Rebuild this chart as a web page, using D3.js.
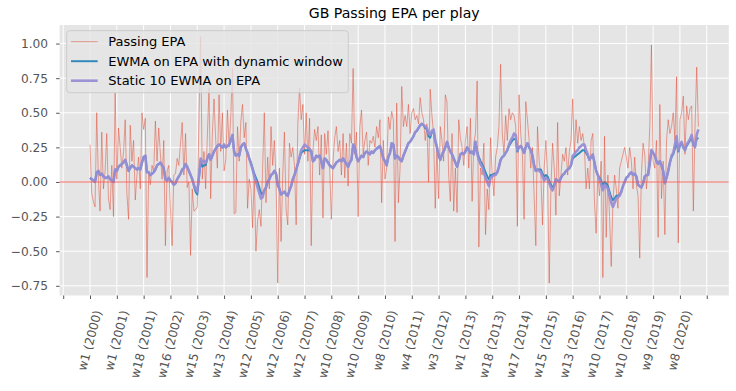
<!DOCTYPE html>
<html><head><meta charset="utf-8">
<script src="https://cdn.jsdelivr.net/npm/d3@7"></script>
<style>body{margin:0;background:#fff;} text{font-family:"DejaVu Sans",sans-serif;}</style>
</head><body><svg id="c" width="736" height="391"></svg>
<script>
// ---- data (one value per game, w1 2000 ... 2020 playoffs) ----
const epa = [
 0.27,-0.08,-0.14,-0.18,0.50,0.02,-0.21,0.36,-0.05,0.08,0.35,-0.12,-0.20,0.12,-0.25,0.65,
 0.02,0.39,0.25,0.10,0.22,0.45,-0.08,-0.27,0.41,0.15,0.30,-0.13,0.05,0.18,-0.05,0.50,0.38,0.46,
 -0.69,0.08,-0.02,0.12,0.07,0.44,0.15,0.39,0.20,0.02,0.30,-0.46,0.08,0.12,-0.20,-0.46,0.05,
 0.06,0.17,0.12,0.28,0.43,0.05,0.35,-0.04,0.00,-0.53,-0.05,-0.21,-0.20,-0.18,0.45,1.05,0.02,0.22,
 -0.05,0.33,0.68,-0.12,0.35,0.60,0.30,0.10,0.63,0.22,0.50,0.08,0.16,0.52,0.25,0.48,0.82,
 -0.23,-0.22,0.40,0.15,0.44,0.56,0.32,0.43,-0.19,0.02,-0.05,-0.33,0.05,-0.50,-0.28,-0.20,
 -0.32,0.10,0.50,-0.15,0.18,-0.05,0.40,0.12,0.30,0.02,-0.73,0.10,-0.43,0.05,0.36,-0.20,
 -0.31,0.28,0.18,0.25,0.12,-0.31,0.42,0.68,0.45,0.56,0.20,0.50,0.15,0.46,-0.46,0.22,0.38,0.30,
 0.40,0.05,0.34,-0.26,0.35,0.20,0.37,0.10,-0.27,0.15,0.32,0.40,0.22,0.30,0.05,0.35,
 0.03,0.28,-0.03,0.35,0.28,0.82,0.20,0.36,-0.25,0.40,0.52,0.20,0.30,0.36,0.12,0.30,0.28,
 0.33,0.25,0.40,0.32,0.45,-0.15,0.30,0.02,0.10,0.47,0.38,0.51,0.45,-0.43,0.57,-0.15,0.10,0.69,0.40,0.48,
 0.40,0.56,0.35,0.50,0.53,0.45,0.48,0.42,0.61,0.50,0.45,0.30,0.42,0.00,0.67,0.48,0.35,
 -0.19,0.25,-0.12,0.40,0.30,0.15,0.63,0.58,0.05,-0.14,0.35,-0.21,0.10,-0.22,0.45,0.32,0.25,0.12,
 0.30,0.40,0.10,0.46,-0.14,0.28,0.35,0.73,-0.47,0.10,0.05,0.28,-0.38,-0.05,-0.20,0.32,0.05,
 -0.10,0.18,0.25,0.40,0.85,0.35,0.20,0.48,0.30,0.53,0.45,0.50,0.48,0.40,-0.32,0.63,0.35,0.20,
 -0.27,0.58,0.45,0.30,0.10,0.25,-0.10,-0.46,0.40,0.15,0.05,-0.31,0.10,0.30,0.05,-0.73,-0.05,0.28,
 0.10,-0.24,0.43,-0.10,0.05,0.20,0.15,0.25,0.05,0.22,0.30,0.60,0.20,0.45,0.28,0.40,0.30,0.35,0.25,
 -0.05,0.10,-0.05,0.30,0.35,-0.15,-0.37,0.05,-0.10,0.15,-0.69,0.33,-0.40,0.05,-0.25,-0.61,
 -0.15,0.05,-0.05,-0.19,0.10,0.15,0.20,0.25,0.18,0.10,0.25,0.15,-0.05,0.18,-0.02,-0.10,
 -0.55,0.05,0.28,0.20,-0.05,0.10,0.40,0.99,0.15,0.10,0.30,-0.40,0.56,-0.12,0.15,-0.38,0.30,0.45,
 0.35,0.40,0.50,0.30,0.76,-0.44,0.45,0.50,0.62,0.20,0.55,0.45,0.53,0.55,-0.21,0.40,0.83,0.40
];
const ewmaDynamic = [
 0.03,0.02,0.01,0.00,0.07,0.08,0.05,0.06,0.04,0.03,
 0.03,0.04,0.02,0.01,0.00,0.09,0.08,0.11,0.12,0.13,
 0.14,0.16,0.12,0.08,0.10,0.12,0.11,0.10,0.09,0.10,
 0.09,0.14,0.18,0.19,0.07,0.07,0.05,0.06,0.07,0.09,
 0.12,0.13,0.14,0.12,0.10,0.02,0.01,0.03,0.01,0.00,
 -0.02,-0.01,0.02,0.04,0.06,0.09,0.10,0.13,0.11,0.08,
 0.05,0.02,-0.03,-0.07,-0.09,0.03,0.15,0.11,0.12,0.12,
 0.17,0.20,0.16,0.19,0.22,0.24,0.26,0.27,0.26,0.25,
 0.27,0.25,0.26,0.27,0.30,0.34,0.22,0.19,0.20,0.19,
 0.25,0.27,0.28,0.24,0.21,0.17,0.14,0.10,0.06,0.03,
 0.00,-0.04,-0.08,-0.09,-0.06,-0.04,0.00,0.02,0.05,0.06,
 0.08,0.06,-0.02,-0.05,-0.09,-0.08,-0.07,-0.09,-0.10,-0.06,
 -0.03,0.02,0.05,0.09,0.13,0.17,0.21,0.22,0.23,0.23,
 0.23,0.23,0.22,0.15,0.16,0.19,0.18,0.19,0.15,0.10,
 0.17,0.16,0.14,0.12,0.11,0.10,0.12,0.14,0.15,0.16,
 0.15,0.17,0.15,0.13,0.11,0.14,0.16,0.27,0.25,0.18,
 0.15,0.17,0.19,0.18,0.21,0.22,0.21,0.20,0.22,0.21,
 0.23,0.24,0.25,0.26,0.22,0.17,0.15,0.12,0.18,0.21,
 0.28,0.27,0.17,0.19,0.18,0.16,0.15,0.19,0.22,0.25,
 0.28,0.29,0.31,0.33,0.36,0.37,0.39,0.41,0.42,0.41,
 0.39,0.38,0.33,0.32,0.36,0.37,0.30,0.25,0.19,0.16,
 0.20,0.22,0.25,0.29,0.25,0.22,0.20,0.17,0.14,0.11,
 0.15,0.20,0.21,0.20,0.22,0.25,0.23,0.21,0.22,0.20,
 0.29,0.22,0.18,0.15,0.13,0.10,0.07,0.04,0.02,0.05,
 0.05,0.06,0.06,0.07,0.11,0.16,0.18,0.19,0.21,0.23,
 0.26,0.28,0.30,0.31,0.31,0.22,0.25,0.26,0.24,0.21,
 0.25,0.28,0.25,0.23,0.19,0.12,0.08,0.09,0.09,0.09,
 0.06,0.04,0.05,0.04,0.01,-0.02,-0.04,-0.02,0.02,0.01,
 0.00,0.03,0.05,0.06,0.08,0.09,0.10,0.12,0.17,0.18,
 0.19,0.20,0.21,0.22,0.23,0.23,0.21,0.19,0.16,0.18,
 0.19,0.14,0.08,0.05,0.03,0.01,-0.02,0.00,-0.01,-0.03,
 -0.07,-0.11,-0.13,-0.12,-0.10,-0.10,-0.09,-0.07,-0.03,0.00,
 0.03,0.04,0.06,0.07,0.05,0.06,0.04,-0.02,-0.03,-0.04,
 -0.01,0.04,0.05,0.05,0.14,0.23,0.21,0.19,0.15,0.13,
 0.15,0.12,0.08,0.00,0.03,0.08,0.14,0.18,0.20,0.24,
 0.29,0.22,0.26,0.28,0.25,0.23,0.26,0.28,0.30,0.32,
 0.27,0.26,0.31,0.32
];
const ewmaStatic10 = [
 0.03,0.02,0.01,0.00,0.07,0.08,0.05,0.06,0.04,0.03,
 0.03,0.04,0.02,0.01,0.00,0.09,0.08,0.11,0.12,0.13,
 0.14,0.16,0.12,0.08,0.10,0.12,0.11,0.10,0.09,0.10,
 0.09,0.14,0.18,0.19,0.07,0.07,0.05,0.06,0.07,0.09,
 0.12,0.13,0.14,0.12,0.10,0.02,0.01,0.03,0.01,0.00,
 -0.02,-0.01,0.02,0.04,0.06,0.09,0.10,0.13,0.11,0.08,
 0.05,0.02,-0.02,-0.05,-0.07,0.04,0.17,0.14,0.15,0.14,
 0.17,0.20,0.16,0.19,0.22,0.24,0.26,0.27,0.26,0.25,
 0.27,0.25,0.26,0.27,0.30,0.34,0.22,0.19,0.20,0.19,
 0.25,0.27,0.28,0.24,0.21,0.17,0.13,0.09,0.04,0.00,
 -0.04,-0.08,-0.12,-0.11,-0.06,-0.04,0.00,0.02,0.05,0.06,
 0.08,0.06,-0.02,-0.05,-0.09,-0.08,-0.07,-0.09,-0.10,-0.06,
 -0.03,0.02,0.05,0.09,0.13,0.18,0.23,0.25,0.27,0.26,
 0.25,0.24,0.22,0.15,0.16,0.19,0.18,0.19,0.15,0.10,
 0.17,0.16,0.14,0.12,0.11,0.10,0.12,0.14,0.15,0.16,
 0.15,0.17,0.15,0.13,0.11,0.14,0.16,0.27,0.25,0.18,
 0.15,0.17,0.19,0.18,0.21,0.22,0.21,0.20,0.22,0.21,
 0.23,0.24,0.25,0.26,0.22,0.17,0.15,0.12,0.18,0.21,
 0.28,0.27,0.17,0.19,0.18,0.16,0.15,0.19,0.22,0.25,
 0.28,0.29,0.31,0.33,0.36,0.37,0.39,0.41,0.42,0.41,
 0.40,0.39,0.35,0.34,0.37,0.38,0.30,0.25,0.19,0.16,
 0.20,0.22,0.25,0.29,0.25,0.22,0.20,0.17,0.14,0.11,
 0.15,0.20,0.21,0.20,0.22,0.25,0.23,0.21,0.22,0.20,
 0.29,0.21,0.16,0.13,0.11,0.07,0.03,0.00,-0.03,0.03,
 0.04,0.05,0.05,0.07,0.11,0.16,0.18,0.19,0.21,0.23,
 0.27,0.30,0.32,0.35,0.34,0.23,0.25,0.26,0.24,0.21,
 0.25,0.28,0.25,0.23,0.19,0.12,0.08,0.09,0.08,0.07,
 0.04,0.01,0.03,0.02,-0.01,-0.04,-0.06,-0.03,0.02,0.01,
 0.00,0.03,0.05,0.06,0.08,0.09,0.10,0.12,0.19,0.20,
 0.22,0.23,0.25,0.26,0.27,0.27,0.23,0.20,0.16,0.18,
 0.20,0.14,0.08,0.05,0.02,-0.02,-0.06,-0.02,-0.03,-0.05,
 -0.10,-0.15,-0.18,-0.15,-0.12,-0.11,-0.10,-0.07,-0.03,0.00,
 0.03,0.04,0.06,0.07,0.05,0.06,0.04,-0.02,-0.03,-0.04,
 -0.01,0.04,0.05,0.05,0.14,0.23,0.21,0.19,0.15,0.13,
 0.15,0.12,0.08,-0.01,0.03,0.08,0.14,0.19,0.21,0.27,
 0.33,0.23,0.27,0.29,0.25,0.23,0.27,0.29,0.31,0.34,
 0.27,0.25,0.34,0.38
];
const weekLabels = ["w1 (2000)","w1 (2001)","w18 (2001)","w16 (2002)","w15 (2003)","w13 (2004)",
 "w12 (2005)","w12 (2006)","w12 (2007)","w10 (2008)","w10 (2009)","w8 (2010)","w4 (2011)",
 "w3 (2012)","w1 (2013)","w18 (2013)","w17 (2014)","w15 (2015)","w13 (2016)","w10 (2017)",
 "w10 (2018)","w9 (2019)","w8 (2020)"];
const yTicks = [-0.75,-0.5,-0.25,0,0.25,0.5,0.75,1.0];
const labelStep = 16;
const seriesNames = ["Passing EPA","EWMA on EPA with dynamic window","Static 10 EWMA on EPA"];
const title = "GB Passing EPA per play";

// ---- layout ----
const plot = {left:59.6,right:728.8,top:25,bottom:295.5};
const n = epa.length;
const pad = (n-1)*0.05;
const x = d3.scaleLinear().domain([-pad, n-1+pad]).range([plot.left, plot.right]);
const y = d3.scaleLinear().domain([-0.82, 1.134]).range([plot.bottom, plot.top]);
const svg = d3.select("#c");

svg.append("rect").attr("x",plot.left).attr("y",plot.top)
  .attr("width",plot.right-plot.left).attr("height",plot.bottom-plot.top).attr("fill","#E5E5E5");

const xTicks = d3.range(-labelStep, n-1+pad, labelStep);
const grid = svg.append("g").attr("stroke","#fff").attr("stroke-width",1);
grid.selectAll(".gx").data(xTicks).join("line")
  .attr("x1",d=>x(d)).attr("x2",d=>x(d)).attr("y1",plot.top).attr("y2",plot.bottom);
grid.selectAll(".gy").data(yTicks).join("line")
  .attr("x1",plot.left).attr("x2",plot.right).attr("y1",d=>y(d)).attr("y2",d=>y(d));

// clip
svg.append("clipPath").attr("id","clip").append("rect")
  .attr("x",plot.left).attr("y",plot.top).attr("width",plot.right-plot.left).attr("height",plot.bottom-plot.top);
const g = svg.append("g").attr("clip-path","url(#clip)");
const line = d3.line().x((d,i)=>x(i)).y(d=>y(d));

g.append("path").datum(epa).attr("d",line).attr("fill","none")
  .attr("stroke","#E24A33").attr("stroke-opacity",0.5).attr("stroke-width",1);
g.append("path").datum(ewmaDynamic).attr("d",line).attr("fill","none")
  .attr("stroke","#348ABD").attr("stroke-width",2).attr("stroke-linejoin","round");
g.append("path").datum(ewmaStatic10).attr("d",line).attr("fill","none")
  .attr("stroke","#988ED5").attr("stroke-width",2.6).attr("stroke-opacity",0.95).attr("stroke-linejoin","round");
g.append("line").attr("x1",plot.left).attr("x2",plot.right).attr("y1",y(0)).attr("y2",y(0))
  .attr("stroke","#F0524A").attr("stroke-opacity",0.6).attr("stroke-width",1.5);

// y axis
const yAxis = d3.axisLeft(y).tickValues(yTicks).tickSize(3.5).tickPadding(8).tickFormat(d3.format(".2f"));
const ya = svg.append("g").attr("transform",`translate(${plot.left},0)`).call(yAxis);
ya.select(".domain").remove();
ya.selectAll(".tick line").attr("stroke","#555555");
ya.selectAll(".tick text").attr("fill","#555555").style("font-size","12.2px").style("font-family","DejaVu Sans");

// x axis
const xAxis = d3.axisBottom(x).tickValues(xTicks).tickSize(3.5).tickFormat(()=> "");
const xa = svg.append("g").attr("transform",`translate(0,${plot.bottom})`).call(xAxis);
xa.select(".domain").remove();
xa.selectAll(".tick line").attr("stroke","#555555");

const angle = 75, rad = angle*Math.PI/180, fs = 12.2, labelTop = 309;
xTicks.forEach(t => {
  const k = t/labelStep;
  if (t < 0 || k >= weekLabels.length) return;
  const txt = svg.append("text").text(weekLabels[k])
    .attr("fill","#555555").style("font-size",fs+"px")
    .attr("text-anchor","middle").attr("dominant-baseline","central");
  const w = txt.node().getComputedTextLength();
  const bh = w*Math.sin(rad) + fs*0.95*Math.cos(rad);
  txt.attr("transform",`translate(${x(t)},${labelTop + bh/2}) rotate(${-angle})`);
});

// title
svg.append("text").text(title).attr("x",(plot.left+plot.right)/2).attr("y",18)
  .attr("text-anchor","middle").style("font-size","14.1px").attr("fill","#000");

// legend
const lg = svg.append("g");
lg.append("rect").attr("x",66.7).attr("y",30.7).attr("width",281.6).attr("height",62)
  .attr("rx",3).attr("fill","#E5E5E5").attr("fill-opacity",0.8).attr("stroke","#CCCCCC").attr("stroke-width",1);
const lstyles = [
  {c:"#E24A33",o:0.5,w:1},{c:"#348ABD",o:1,w:2},{c:"#988ED5",o:0.95,w:2.6}];
seriesNames.forEach((s,i)=>{
  const yy = 41.7 + i*19.5;
  lg.append("line").attr("x1",71).attr("x2",97.7).attr("y1",yy).attr("y2",yy)
    .attr("stroke",lstyles[i].c).attr("stroke-opacity",lstyles[i].o).attr("stroke-width",lstyles[i].w);
  lg.append("text").text(s).attr("x",108.3).attr("y",yy).attr("dominant-baseline","central")
    .style("font-size","13px").attr("fill","#000");
});
</script></body></html>
